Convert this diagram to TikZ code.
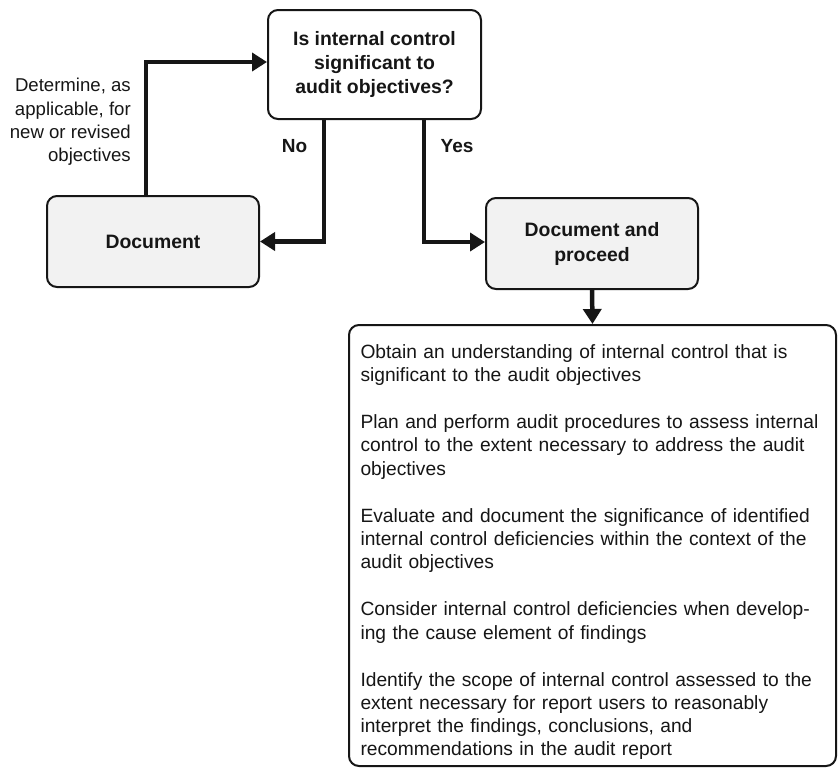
\documentclass[tikz,border=0pt]{standalone}
\usepackage{fontspec}
\setmainfont{Liberation Sans}
\usepackage{xcolor}
\usepackage{tikz}
\usetikzlibrary{arrows.meta, positioning, calc}
\definecolor{inkblack}{RGB}{22,22,22}
\definecolor{boxgray}{RGB}{242,242,242}

\begin{document}
\begin{tikzpicture}[x=1pt, y=-1pt,
    every node/.style={text=inkblack, font=\fontsize{19.4}{23.2}\selectfont},
    decision/.style={draw=inkblack, line width=2pt, rounded corners=10pt, fill=white,
          align=center, font=\fontsize{19.4}{24}\selectfont\bfseries},
    docbox/.style={draw=inkblack, line width=2pt, rounded corners=10pt, fill=boxgray,
          align=center, minimum width=212pt, minimum height=91pt,
          font=\fontsize{19.4}{25}\selectfont\bfseries},
    stepbox/.style={draw=inkblack, line width=2pt, rounded corners=10pt, fill=white,
          align=left, text width=464pt, inner xsep=11.5pt,
          minimum width=487pt, minimum height=441pt,
          font=\fontsize{19.2}{23.2}\selectfont},
    branch/.style={font=\fontsize{19}{23}\selectfont\bfseries},
    flow/.style={draw=inkblack, line width=4.5pt, -{Triangle[length=15pt,width=18pt]}}]

    \useasboundingbox (0,0) rectangle (838,769);

    % decision and outcomes
    \node[decision, minimum width=213pt, minimum height=109pt] (q) at (374.5,64.5)
        {Is internal control\\significant to\\audit objectives?};
    \node[docbox] (doc) at (153,241.5) {Document};
    \node[docbox] (docproc) at (592,243.5) {Document and\\proceed};

    \node[align=right, inner sep=0pt, anchor=east, font=\fontsize{18.6}{23.3}\selectfont]
        (note) at (131,122) {Determine, as\\applicable, for\\new or revised\\objectives};
    \node[branch] (no) at (294.5,146) {No};
    \node[branch] (yes) at (457,146) {Yes};

    % what the auditor does next
    \node[stepbox] (steps) at (592.5,545.5) {
        \rule{0pt}{27pt}Obtain an understanding of internal control that is\\
        significant to the audit objectives\\[24pt]
        Plan and perform audit procedures to assess internal\\
        control to the extent necessary to address the audit\\
        objectives\\[24pt]
        Evaluate and document the significance of identified\\
        internal control deficiencies within the context of the\\
        audit objectives\\[24pt]
        Consider internal control deficiencies when develop-\\
        ing the cause element of findings\\[24pt]
        Identify the scope of internal control assessed to the\\
        extent necessary for report users to reasonably\\
        interpret the findings, conclusions, and\\
        recommendations in the audit report
    };

    \draw[flow] ([xshift=-7pt]doc.north) |- ([yshift=2.5pt]q.west);
    \draw[flow] ([xshift=-50.5pt]q.south) |- (doc.east);
    \draw[flow] ([xshift=49.5pt]q.south) |- ([yshift=1.5pt]docproc.west);
    \draw[flow] (docproc.south) -- (steps.north);
\end{tikzpicture}
\end{document}
